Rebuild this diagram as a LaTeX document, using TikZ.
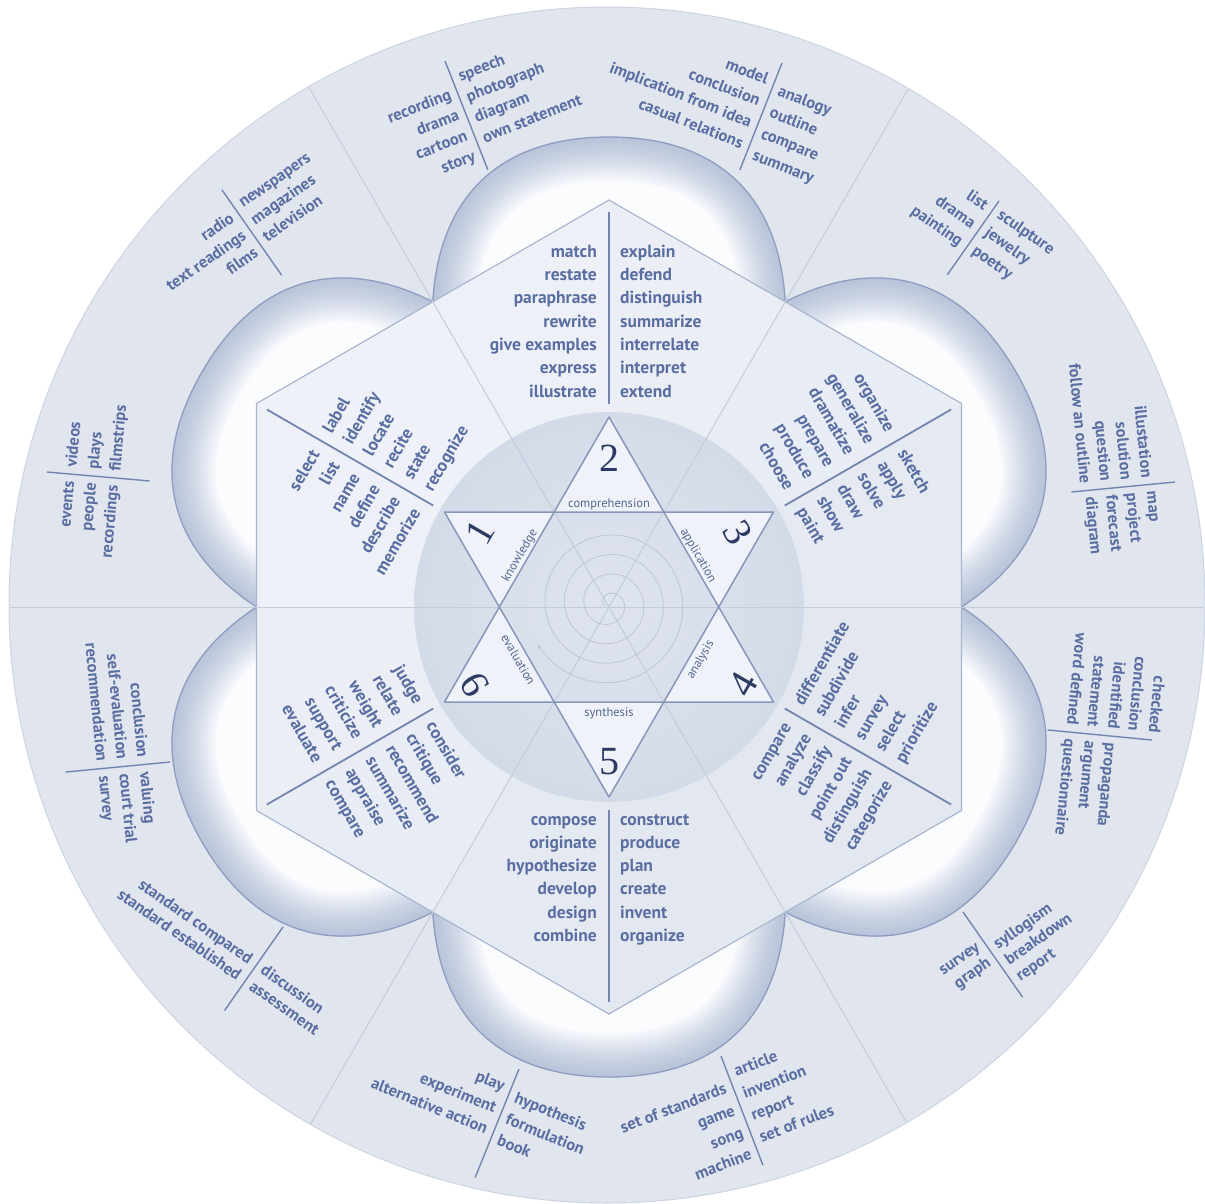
\documentclass[tikz,border=0pt]{standalone}
\usepackage{fontspec}
\setmainfont{PT Sans}
\newfontfamily\numfont{Liberation Serif}
\usetikzlibrary{arrows.meta}
\definecolor{ringbg}{HTML}{E0E5EE}
\definecolor{rimc}{HTML}{CDD4E2}
\definecolor{petalfill}{HTML}{FBFCFE}
\definecolor{petalshade}{HTML}{8FA2C6}
\definecolor{petalborder}{HTML}{8E9EC1}
\definecolor{hexlight}{HTML}{EEF1F7}
\definecolor{hexdark}{HTML}{E2E7F0}
\definecolor{hexline}{HTML}{A9B6CF}
\definecolor{diskin}{HTML}{DFE4EE}
\definecolor{diskout}{HTML}{D4DBE8}
\definecolor{divc}{HTML}{C3CCDD}
\definecolor{starfill}{HTML}{EFF2F8}
\definecolor{starline}{HTML}{8797BA}
\definecolor{sepc}{HTML}{7385AF}
\definecolor{wordc}{HTML}{5A6EA2}
\definecolor{labc}{HTML}{56678F}
\definecolor{numc}{HTML}{2C3B63}
\definecolor{spiralc}{HTML}{BCC6DA}
\tikzset{
 hexword/.style={font=\fontsize{17.5}{20}\selectfont\bfseries, text=wordc, inner sep=0pt},
 ringword/.style={font=\fontsize{16.5}{19}\selectfont\bfseries, text=wordc, inner sep=0pt},
 starlab/.style={font=\fontsize{12.5}{14}\selectfont, text=labc, inner sep=0pt},
 numlab/.style={font=\numfont\fontsize{40}{40}\selectfont, text=numc, inner sep=0pt},
 gsep/.style={draw=sepc, line width=1.4pt},
 hsep/.style={draw=sepc, line width=1.8pt},
 divline/.style={draw=divc, line width=1pt},
 hexedge/.style={draw=hexline, line width=1.2pt},
 staredge/.style={draw=starline, line width=1.5pt},
 petaledge/.style={draw=petalborder, line width=1.3pt},
}
% #1 prefix, #2 origin, #3 rotation, #4 anchor, #5 x, #6 first y, #7 step, #8 list, #9 style
\newcommand\wcol[9]{%
  \begin{scope}[shift={#2}, rotate=#3, transform shape]
    \foreach \w [count=\i] in {#8} {%
      \node[#9, anchor=#4] (#1-\i) at (#5, {#6+(\i-1)*#7}) {\w};
    }
  \end{scope}}
% #1 name, #2 top of separator, #3 rotation, #4 length, #5 left start, #6 right start, #7 step, #8 left, #9 right
\newcommand\ringgroup[9]{%
  \begin{scope}[shift={#2}, rotate=#3]
    \draw[gsep] (0,0) -- (0,#4);
  \end{scope}
  \wcol{#1L}{#2}{#3}{base east}{-7}{#5+5}{#7}{#8}{ringword}
  \wcol{#1R}{#2}{#3}{base west}{7}{#6+5}{#7}{#9}{ringword}}
% #1 name, #2 rotation, #3 first baseline, #4 #5 separator ends, #6 left, #7 right
\newcommand\hexgroup[7]{%
  \begin{scope}[shift={(609,607)}, rotate=#2]
    \draw[hsep] (0,#4) -- (0,#5);
  \end{scope}
  \wcol{#1L}{(609,607)}{#2}{base east}{-12}{#3}{23.3}{#6}{hexword}
  \wcol{#1R}{(609,607)}{#2}{base west}{11}{#3}{23.3}{#7}{hexword}}
\def\petalcurve{(-176.25,-305.3) .. controls (-170,-410) and (-110,-470) .. (0,-470) .. controls (110,-470) and (170,-410) .. (176.25,-305.3)}

\begin{document}
\begin{tikzpicture}[x=1pt,y=-1pt,line join=round]
\useasboundingbox (0,0) rectangle (1205,1203);
\fill[white] (0,0) rectangle (1205,1203);
% outer ring
\fill[ringbg] (607,605) circle (598pt);
\draw[rimc, line width=1pt] (607,605) circle (598pt);

% key points
\coordinate (O) at (609,607);
\coordinate (V90) at (609,200);
\coordinate (V30) at (961.5,403.5);
\coordinate (Vm30) at (961.5,810.5);
\coordinate (Vm90) at (609,1014);
\coordinate (Vm150) at (256.5,810.5);
\coordinate (V150) at (256.5,403.5);
\coordinate (P0) at (961.5,607);
\coordinate (P60) at (785.25,301.7);
\coordinate (P120) at (432.75,301.7);
\coordinate (P180) at (256.5,607);
\coordinate (P240) at (432.75,912.3);
\coordinate (P300) at (785.25,912.3);
\coordinate (E0) at (1229,607);
\coordinate (E180) at (-11,607);
\coordinate (E60) at (919,70);
\coordinate (E240) at (299,1144);
\coordinate (E120) at (299,70);
\coordinate (E300) at (919,1144);

% petals
\foreach \k in {0,...,5}{
  \begin{scope}[shift={(609,607)}, rotate=60*\k]
    \fill[petalfill] \petalcurve -- (0,0) -- cycle;
    \begin{scope}
      \clip \petalcurve -- (0,0) -- cycle;
      \foreach \lw in {4,8,...,88}{
        \draw[petalshade, line width=\lw pt, opacity=0.035] \petalcurve;
      }
    \end{scope}
    \draw[petaledge] \petalcurve;
  \end{scope}
}

% hexagon facets
\fill[hexlight!25!hexdark] (O) -- (P0) -- (V30) -- cycle;
\fill[hexlight!50!hexdark] (O) -- (V30) -- (P60) -- cycle;
\fill[hexlight!75!hexdark] (O) -- (P60) -- (V90) -- cycle;
\fill[hexlight!93!hexdark] (O) -- (V90) -- (P120) -- cycle;
\fill[hexlight] (O) -- (P120) -- (V150) -- cycle;
\fill[hexlight!93!hexdark] (O) -- (V150) -- (P180) -- cycle;
\fill[hexlight!75!hexdark] (O) -- (P180) -- (Vm150) -- cycle;
\fill[hexlight!50!hexdark] (O) -- (Vm150) -- (P240) -- cycle;
\fill[hexlight!25!hexdark] (O) -- (P240) -- (Vm90) -- cycle;
\fill[hexlight!7!hexdark] (O) -- (Vm90) -- (P300) -- cycle;
\fill[hexdark] (O) -- (P300) -- (Vm30) -- cycle;
\fill[hexlight!7!hexdark] (O) -- (Vm30) -- (P0) -- cycle;
\draw[hexedge] (V90) -- (V30) -- (Vm30) -- (Vm90) -- (Vm150) -- (V150) -- cycle;

% central disk
\shade[inner color=diskin, outer color=diskout] (O) circle (195pt);

% divider lines
\begin{scope}
  \clip (607,605) circle (597pt);
  \draw[divline] (E0) -- (E180);
  \draw[divline] (E60) -- (E240);
  \draw[divline] (E120) -- (E300);
\end{scope}

% star
\coordinate (U1) at (609,417);
\coordinate (U2) at (444.5,702);
\coordinate (U3) at (773.5,702);
\coordinate (T1) at (444.5,512);
\coordinate (T2) at (773.5,512);
\coordinate (T3) at (609,797);
\coordinate (I0) at (718.7,607);
\coordinate (I60) at (663.8,512);
\coordinate (I120) at (554.2,512);
\coordinate (I180) at (499.3,607);
\coordinate (I240) at (554.2,702);
\coordinate (I300) at (663.8,702);
\fill[starfill] (U1) -- (I60) -- (I120) -- cycle;
\fill[starfill] (T2) -- (I60) -- (I0) -- cycle;
\fill[starfill] (U3) -- (I0) -- (I300) -- cycle;
\fill[starfill] (T3) -- (I300) -- (I240) -- cycle;
\fill[starfill] (U2) -- (I240) -- (I180) -- cycle;
\fill[starfill] (T1) -- (I180) -- (I120) -- cycle;
\draw[staredge] (U1) -- (U2) -- (U3) -- cycle;
\draw[staredge] (T1) -- (T2) -- (T3) -- cycle;

% spiral
\begin{scope}[shift={(609,604)}]
  \draw[spiralc, line width=0.8pt, -{Stealth[length=5pt,width=4pt]}]
    plot[domain=0:1, samples=300, smooth] ({152-1440*(1-\x)}:{4+78*\x});
\end{scope}

% star labels and numbers
\begin{scope}[shift={(609,607)}, transform shape]
  \node[starlab, anchor=base] (l2) at (0,-99.5) {comprehension};
  \node[numlab] (n2) at (0,-149) {2};
  \node[starlab, anchor=base] (l5) at (0,109) {synthesis};
  \node[numlab] (n5) at (0,155) {5};
\end{scope}
\begin{scope}[shift={(609,607)}, rotate=60, transform shape]
  \node[starlab, anchor=base] (l1) at (0,-99.5) {knowledge};
  \node[numlab] (n1) at (0,-149) {1};
  \node[starlab, anchor=base] (l4) at (0,109) {analysis};
  \node[numlab] (n4) at (0,155) {4};
\end{scope}
\begin{scope}[shift={(609,607)}, rotate=-60, transform shape]
  \node[starlab, anchor=base] (l3) at (0,-99.5) {application};
  \node[numlab] (n3) at (0,-149) {3};
  \node[starlab, anchor=base] (l6) at (0,109) {evaluation};
  \node[numlab] (n6) at (0,155) {6};
\end{scope}

% hexagon word groups
\hexgroup{hT}{0}{-349.8}{-395}{-203}{match,restate,paraphrase,rewrite,give examples,express,illustrate}{explain,defend,distinguish,summarize,interrelate,interpret,extend}
\hexgroup{hUL}{60}{-326.5}{-395}{-203}{select,list,name,define,describe,memorize}{label,identify,locate,recite,state,recognize}
\hexgroup{hUR}{-60}{-326.5}{-395}{-203}{organize,generalize,dramatize,prepare,produce,choose}{sketch,apply,solve,draw,show,paint}
\hexgroup{hB}{0}{218}{203}{395}{compose,originate,hypothesize,develop,design,combine}{construct,produce,plan,create,invent,organize}
\hexgroup{hLL}{-60}{218}{203}{395}{judge,relate,weight,criticize,support,evaluate}{consider,critique,recommend,summarize,appraise,compare}
\hexgroup{hLR}{60}{218}{203}{395}{compare,analyze,classify,point out,distinguish,categorize}{differentiate,subdivide,infer,survey,select,prioritize}

% outer ring word groups
\ringgroup{g1}{(445,61)}{21.5}{117}{33}{20}{22}{recording,drama,cartoon,story}{speech,photograph,diagram,own statement}
\ringgroup{g2}{(782,63)}{-21.5}{115}{21}{27}{23}{model,conclusion,implication from idea,casual relations}{analogy,outline,compare,summary}
\ringgroup{g3}{(222,190)}{35}{104}{28}{22}{21}{radio,text readings,films}{newspapers,magazines,television}
\ringgroup{g4}{(47,472)}{85}{103}{23}{24}{22}{events,people,recordings}{videos,plays,filmstrips}
\ringgroup{g5}{(170,762)}{-84.5}{105}{27}{26}{20.5}{conclusion,self-evaluation,recommendation}{valuing,court trial,survey}
\ringgroup{g6}{(283,927)}{-35}{102}{46}{46}{20}{standard compared,standard established}{discussion,assessment}
\ringgroup{g7}{(519,1069)}{-22}{117}{22}{28}{23}{play,experiment,alternative action}{hypothesis,formulation,book}
\ringgroup{g8}{(721,1056)}{21}{117}{32}{20}{23.5}{set of standards,game,song,machine}{article,invention,report,set of rules}
\ringgroup{g9}{(963,912)}{35}{104}{36}{46}{19.5}{survey,graph}{syllogism,breakdown,report}
\ringgroup{g10}{(1152,740)}{-95.5}{105}{-1}{41}{20.5}{checked,conclusion,identified,statement,word defined}{propaganda,argument,questionnaire}
\ringgroup{g11}{(1175,482)}{-84.5}{104}{28}{24}{20.5}{illustation,solution,question,follow an outline}{map,project,forecast,diagram}
\ringgroup{g12}{(999,201)}{-35}{90}{12}{10}{22}{list,drama,painting}{sculpture,jewelry,poetry}
\end{tikzpicture}
\end{document}
